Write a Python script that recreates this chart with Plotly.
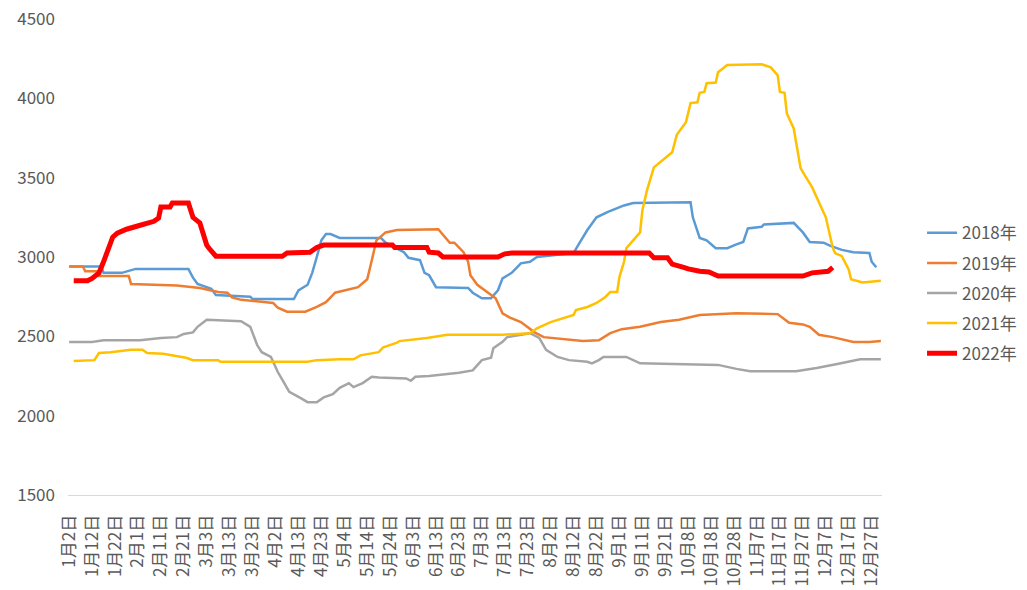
import plotly.graph_objects as go

tick_labels = ["1月2日", "1月12日", "1月22日", "2月1日", "2月11日", "2月21日", "3月3日", "3月13日",
               "3月23日", "4月2日", "4月13日", "4月23日", "5月4日", "5月14日", "5月24日", "6月3日",
               "6月13日", "6月23日", "7月3日", "7月13日", "7月23日", "8月2日", "8月12日", "8月22日",
               "9月1日", "9月11日", "9月21日", "10月8日", "10月18日", "10月28日", "11月7日", "11月17日",
               "11月27日", "12月7日", "12月17日", "12月27日"]
n_days = 355
tick_pos = [i * 10 for i in range(len(tick_labels))]

x_2018 = [0, 14, 15, 23, 29, 52, 54, 56, 62, 64, 79, 80, 98, 100, 104, 106, 108, 110, 112, 114,
          118, 136, 138, 146, 148, 153, 155, 157, 160, 174, 176, 180, 184, 187, 189, 193, 197, 201, 204, 220,
          222, 226, 230, 235, 242, 246, 271, 272, 275, 278, 282, 287, 291, 294, 296, 302, 303, 316, 320, 323,
          329, 332, 337, 342, 349, 350, 352]
y_2018 = [2940, 2940, 2900, 2900, 2925, 2925, 2870, 2830, 2800, 2760, 2750, 2735, 2735, 2790, 2825, 2900, 3000, 3105, 3145, 3145,
          3120, 3120, 3090, 3030, 2995, 2980, 2900, 2885, 2810, 2805, 2775, 2740, 2740, 2790, 2865, 2900, 2960, 2970, 3000, 3025,
          3075, 3170, 3250, 3285, 3325, 3340, 3345, 3250, 3120, 3105, 3055, 3055, 3080, 3095, 3180, 3190, 3205, 3215, 3155, 3095,
          3090, 3070, 3045, 3030, 3025, 2970, 2935]

x_2019 = [0, 6, 7, 12, 13, 26, 27, 47, 57, 62, 65, 69, 71, 75, 83, 89, 91, 95, 103, 108,
          112, 116, 126, 130, 132, 134, 138, 143, 161, 164, 166, 168, 172, 174, 175, 178, 182, 186, 189, 192,
          197, 200, 203, 207, 215, 224, 231, 236, 241, 249, 258, 266, 275, 291, 309, 314, 320, 323, 327, 333,
          342, 349, 354]
y_2019 = [2940, 2940, 2910, 2910, 2880, 2880, 2830, 2820, 2805, 2790, 2780, 2775, 2745, 2730, 2720, 2710, 2680, 2655, 2655, 2685,
          2715, 2775, 2810, 2860, 2980, 3105, 3155, 3170, 3175, 3125, 3090, 3090, 3030, 2970, 2885, 2825, 2780, 2740, 2645, 2620,
          2590, 2560, 2525, 2495, 2485, 2470, 2475, 2520, 2545, 2560, 2590, 2605, 2635, 2645, 2640, 2585, 2575, 2560, 2510, 2495,
          2465, 2465, 2470]

x_2020 = [0, 10, 15, 31, 40, 47, 50, 54, 56, 60, 75, 79, 82, 84, 88, 91, 93, 96, 101, 104,
          108, 111, 115, 118, 122, 124, 128, 132, 135, 147, 149, 151, 157, 170, 176, 180, 184, 185, 189, 191,
          201, 205, 208, 213, 218, 226, 228, 231, 233, 243, 249, 263, 283, 291, 297, 317, 326, 335, 345, 354]
y_2020 = [2465, 2465, 2475, 2475, 2490, 2495, 2515, 2525, 2560, 2605, 2595, 2560, 2445, 2400, 2370, 2275, 2225, 2150, 2110, 2085,
          2085, 2115, 2135, 2175, 2205, 2180, 2205, 2245, 2240, 2235, 2220, 2245, 2250, 2270, 2285, 2350, 2365, 2425, 2465, 2495,
          2520, 2490, 2415, 2370, 2350, 2340, 2330, 2350, 2370, 2370, 2330, 2325, 2320, 2295, 2280, 2280, 2300, 2325, 2355, 2355]

x_2021 = [2, 11, 13, 18, 27, 32, 34, 41, 51, 54, 65, 66, 104, 108, 118, 124, 127, 135, 137, 143,
          144, 156, 165, 189, 201, 204, 210, 220, 221, 226, 230, 232, 234, 236, 239, 240, 242, 243, 245, 249,
          250, 252, 255, 258, 263, 265, 269, 271, 274, 275, 277, 278, 282, 283, 287, 302, 306, 309, 310, 312,
          313, 316, 319, 320, 324, 330, 333, 334, 337, 340, 341, 346, 354]
y_2021 = [2345, 2350, 2395, 2400, 2415, 2415, 2395, 2390, 2365, 2350, 2350, 2340, 2340, 2350, 2355, 2355, 2380, 2400, 2430, 2460,
          2470, 2490, 2510, 2510, 2520, 2550, 2590, 2635, 2665, 2685, 2710, 2730, 2750, 2780, 2780, 2875, 2970, 3055, 3090, 3155,
          3295, 3420, 3565, 3600, 3660, 3770, 3850, 3970, 3975, 4035, 4040, 4095, 4100, 4165, 4210, 4215, 4195, 4145, 4040, 4035,
          3905, 3810, 3560, 3535, 3440, 3250, 3060, 3025, 3005, 2920, 2860, 2840, 2850]

x_2022 = [2, 8, 10, 13, 15, 19, 21, 25, 31, 37, 39, 40, 44, 45, 52, 54, 57, 60, 61, 64,
          93, 95, 105, 108, 111, 141, 142, 156, 157, 161, 163, 187, 190, 193, 253, 255, 261, 263, 268, 270,
          275, 279, 283, 320, 324, 329, 331, 333]
y_2022 = [2850, 2850, 2865, 2900, 2970, 3125, 3150, 3175, 3200, 3225, 3245, 3315, 3315, 3340, 3340, 3250, 3215, 3075, 3055, 3005,
          3005, 3025, 3030, 3060, 3075, 3075, 3060, 3060, 3030, 3025, 3000, 3000, 3020, 3025, 3025, 2995, 2995, 2955, 2935, 2925,
          2910, 2905, 2880, 2880, 2900, 2905, 2910, 2935]

series = [
    ("2018年", x_2018, y_2018, "#5B9BD5", 2.5),
    ("2019年", x_2019, y_2019, "#ED7D31", 2.5),
    ("2020年", x_2020, y_2020, "#A5A5A5", 2.5),
    ("2021年", x_2021, y_2021, "#FFC000", 2.5),
    ("2022年", x_2022, y_2022, "#FF0000", 5),
]

fig = go.Figure()
for name, xs, ys, color, w in series:
    fig.add_trace(go.Scatter(x=xs, y=ys, mode="lines", name=name, legendgroup=name,
                             line=dict(color=color, width=w)))

font_family = "Noto Sans CJK SC, Noto Sans, sans-serif"
fig.update_layout(
    width=1027, height=590,
    margin=dict(l=68, r=145, t=19, b=95),
    paper_bgcolor="white", plot_bgcolor="white",
    font=dict(family=font_family, size=17, color="#595959"),
    showlegend=True,
    legend=dict(xref="container", yref="container", x=0.8978, y=0.503,
                xanchor="left", yanchor="middle",
                font=dict(size=17, color="#595959"), tracegroupgap=5,
                bgcolor="rgba(0,0,0,0)"),
    xaxis=dict(range=[-0.5, n_days - 0.5], tickmode="array", tickvals=tick_pos, ticktext=tick_labels,
               tickangle=-90, showgrid=False, zeroline=False, showline=True, linecolor="#D9D9D9",
               linewidth=1, ticks="", tickfont=dict(size=17, color="#595959"), ticklabelstandoff=12,
               automargin=False, ticklabeloverflow="allow"),
    yaxis=dict(range=[1500, 4500], dtick=500, tick0=1500, showgrid=False, zeroline=False,
               showline=False, ticks="", tickfont=dict(size=17, color="#595959"), ticklabelstandoff=12,
               automargin=False, ticklabeloverflow="allow"),
)

fig.write_html("out.html", config={"displayModeBar": False},
               post_script="document.body.style.margin='0px';")
